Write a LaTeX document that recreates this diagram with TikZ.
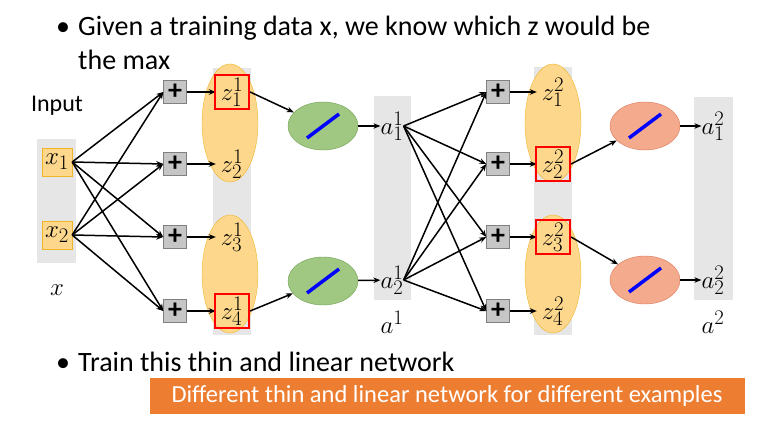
\documentclass[tikz,border=0pt]{standalone}
\usepackage{fontspec}
\setmainfont{Carlito}
\usetikzlibrary{arrows.meta,shapes.geometric}
\definecolor{gcol}{RGB}{230,230,230}
\definecolor{ycol}{RGB}{253,215,140}
\definecolor{yedge}{RGB}{240,180,40}
\definecolor{grn}{RGB}{160,200,130}
\definecolor{grnd}{RGB}{110,160,80}
\definecolor{org}{RGB}{244,170,140}
\definecolor{orgd}{RGB}{220,120,90}
\definecolor{box}{RGB}{237,125,49}
\begin{document}
\begin{tikzpicture}[x=1pt,y=-1pt,
  every node/.style={inner sep=0pt},
  xin/.style={fill=ycol,draw=yedge,minimum width=30pt,minimum height=28pt,font=\fontsize{28}{28}\selectfont},
  plus/.style={fill=gray!45,draw=gray,minimum size=23pt,font=\fontsize{28}{28}\selectfont\bfseries},
  zl/.style={font=\fontsize{29}{29}\selectfont,minimum size=32pt},
  red/.style={draw=red,line width=2.2pt},
  zell/.style={ellipse,fill=ycol,draw=yedge,minimum width=56pt,minimum height=118pt},
  act/.style={ellipse,minimum width=70pt,minimum height=48pt},
  arr/.style={-{Stealth[length=7pt,width=5.5pt]},line width=1.5pt},
  lbl/.style={font=\fontsize{32}{32}\selectfont},
  big/.style={font=\fontsize{28}{28}\selectfont}]
\useasboundingbox (0,0) rectangle (761,428);
% columns
\fill[gcol] (37,139) rectangle (76,263);
\fill[gcol] (213,68) rectangle (251,335);
\fill[gcol] (374,96) rectangle (411,300);
\fill[gcol] (534,67) rectangle (572,335);
\fill[gcol] (694,97) rectangle (733,300);
% ellipses
\node[zell] (e1) at (230,123) {};
\node[zell] (e2) at (230,274) {};
\node[zell] (e3) at (553,123) {};
\node[zell] (e4) at (553,274) {};
% text
\node[anchor=west,big] (t1) at (56,28) {•\hspace{8pt}Given a training data x, we know which z would be};
\node[anchor=west,big] (t2) at (78,60) {the max};
\node[font=\fontsize{24}{24}\selectfont] (inp) at (57,106) {Input};
\node[anchor=west,big] (t3) at (56,362) {•\hspace{8pt}Train this thin and linear network};
\node[fill=box,text=white,minimum width=595pt,minimum height=36pt,font=\fontsize{24.5}{24.5}\selectfont] (ob) at (447,396) {Different thin and linear network for different examples};
% inputs
\node[xin] (x1) at (57,162) {$x_1$};
\node[xin] (x2) at (57,235) {$x_2$};
\node[lbl] (xl) at (57,290) {$x$};
% layers
\foreach \i/\y in {1/92,2/164,3/237,4/311}{
  \node[plus] (p\i) at (175,\y) {+};
  \node[zl] (z\i) at (232,\y) {$z^1_{\i}$};
  \draw[arr] (p\i) -- (z\i);
  \draw[arr] (x1.east) -- (p\i.west);
  \draw[arr] (x2.east) -- (p\i.west);
  \node[plus] (q\i) at (498,\y) {+};
  \node[zl] (w\i) at (553,\y) {$z^2_{\i}$};
  \draw[arr] (q\i) -- (w\i);
}
\node[red,minimum size=34pt] (r1) at (232,92) {};
\node[red,minimum size=34pt] (r4) at (232,311) {};
\node[red,minimum size=34pt] (r6) at (553,164) {};
\node[red,minimum size=34pt] (r7) at (553,237) {};
\node[act,fill=grn,draw=grnd] (g1) at (323,126) {};
\node[act,fill=grn,draw=grnd] (g2) at (323,281) {};
\node[act,fill=org,draw=orgd] (o1) at (645,126) {};
\node[act,fill=org,draw=orgd] (o2) at (645,280) {};
\foreach \n in {g1,g2,o1,o2}{
  \draw[blue,line width=3.5pt] ([shift={(-16,12)}]\n.center) -- ([shift={(16,-12)}]\n.center);
}
\node[lbl] (a1) at (392,126) {$a^1_1$};
\node[lbl] (a2) at (392,280) {$a^1_2$};
\node[lbl] (al) at (392,322) {$a^1$};
\node[lbl] (b1) at (713,126) {$a^2_1$};
\node[lbl] (b2) at (713,280) {$a^2_2$};
\node[lbl] (bl) at (713,322) {$a^2$};
\draw[arr] (r1.east) -- (g1);
\draw[arr] (r4.east) -- (g2);
\draw[arr] (g1) -- (a1);
\draw[arr] (g2) -- (a2);
\foreach \i in {1,2,3,4}{
  \draw[arr] (a1.east) -- (q\i.west);
  \draw[arr] (a2.east) -- (q\i.west);
}
\draw[arr] (r6.east) -- (o1);
\draw[arr] (r7.east) -- (o2);
\draw[arr] (o1) -- (b1);
\draw[arr] (o2) -- (b2);
\end{tikzpicture}
\end{document}
